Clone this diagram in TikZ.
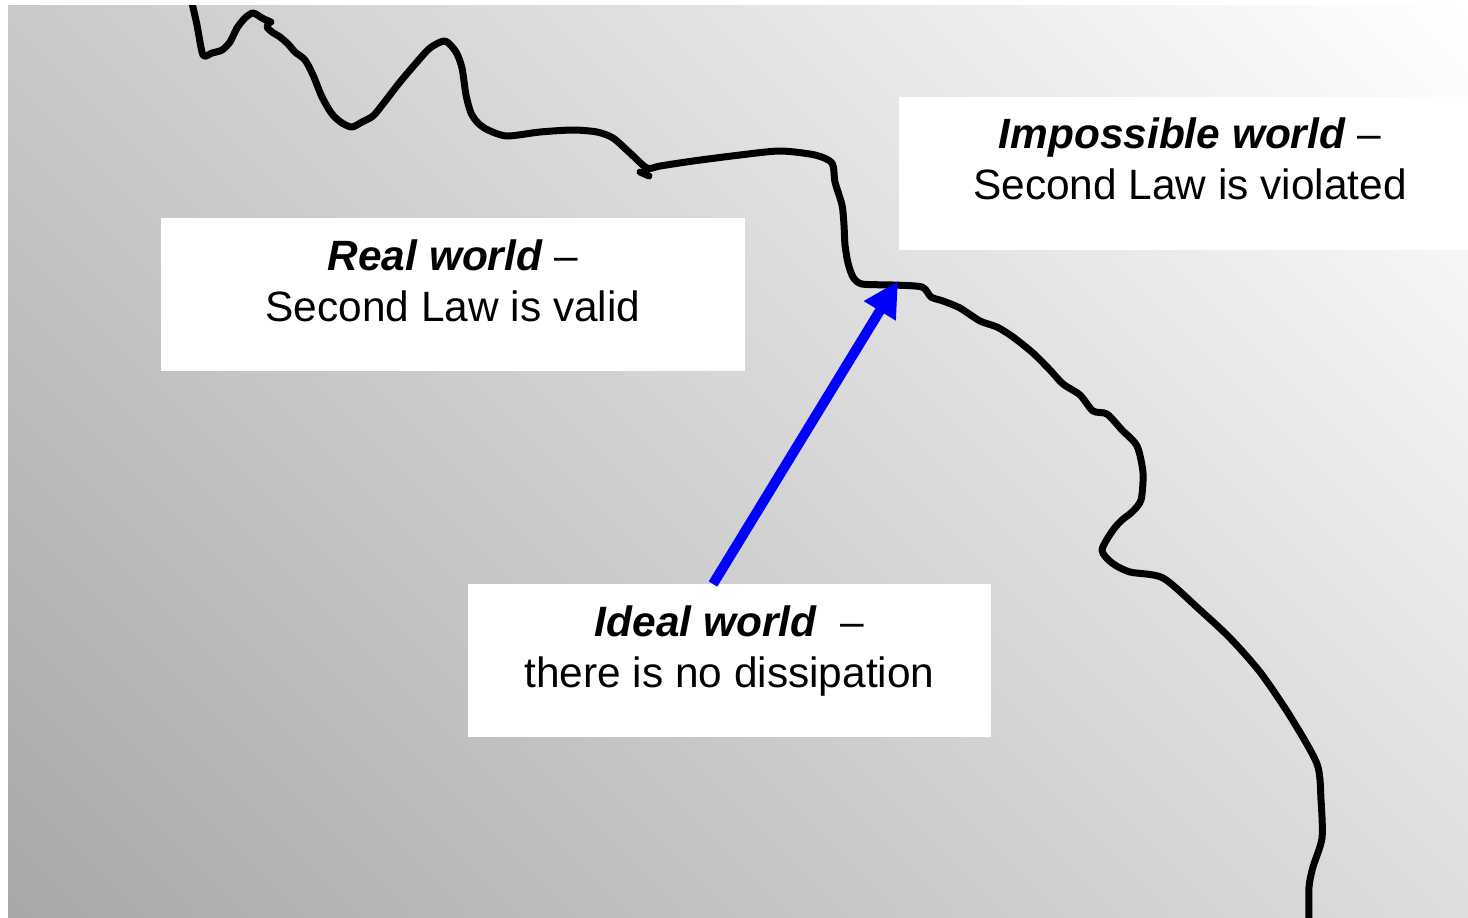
\documentclass[tikz,border=0pt]{standalone}
\usepackage{fontspec}
\setmainfont{Liberation Sans}
\usetikzlibrary{arrows.meta}
\definecolor{bgdark}{RGB}{168,168,168}
\definecolor{arrowblue}{RGB}{0,0,255}
% linear ramp that runs from one corner of the backdrop to the opposite one
\pgfdeclareverticalshading{backdrop}{100bp}{color(0bp)=(bgdark); color(14.64bp)=(bgdark); color(85.36bp)=(white); color(100bp)=(white)}
\tikzset{
  panel/.style={fill=white, draw=none, inner sep=0pt},
  lbl/.style={inner sep=0pt, anchor=base, font=\fontsize{21.2pt}{25.75pt}\selectfont},
  border/.style={line width=3.5pt, line join=round, line cap=butt},
  pointer/.style={line width=5pt, arrowblue, -{Triangle[length=17.5pt, width=17.5pt]}}
}
\begin{document}
\begin{tikzpicture}[x=0.5pt, y=-0.5pt]
  \useasboundingbox (0,0) rectangle (1468,917);
  % shaded backdrop
  \shade[shading=backdrop, shading angle=-45] (8,5) rectangle (1468,917);

  % boundary between the possible and the impossible
  \begin{scope}
    \clip (8,5) rectangle (1468,917);
    \draw[border] plot[smooth, tension=0.45] coordinates {
      (192,3) (197,25) (203,55) (212,53) (222,50) (230,42) (237,28) (245,18)
      (253,13) (262,18) (269,22) (267,27) (272,32) (280,37) (288,44) (295,52)
      (305,60) (313,75) (322,97) (332,114) (342,123) (352,127) (362,122)
      (373,116) (383,104) (400,82) (417,62) (430,48) (445,41) (456,52)
      (462,68) (466,95) (471,113) (478,123) (488,130) (507,136) (540,132)
      (573,130) (597,132) (613,138) (630,153) (647,168) (660,166) (693,161)
      (740,155) (780,151) (815,155) (832,163) (835,182) (842,205) (844,225)
      (845,245) (848,263) (853,277) (862,284) (893,285) (922,287) (931,297)
      (943,301) (960,308) (980,321) (997,327) (1013,337) (1033,353)
      (1050,370) (1063,384) (1080,395) (1093,411) (1107,414) (1122,430)
      (1137,446) (1143,473) (1141,500) (1132,512) (1122,520) (1113,530)
      (1102,550) (1112,563) (1130,572) (1163,578) (1200,610) (1230,638)
      (1260,672) (1290,716) (1317,764) (1321,800) (1322,838) (1313,867)
      (1309,887) (1309,920)};
    \draw[border, line cap=round] (640,172) -- (649,176);
    \draw[border, line cap=round] (266,20) -- (271,22);
  \end{scope}

  % text panels
  \node[panel, minimum width=292pt, minimum height=76.5pt] (realbox) at (453,294.5) {};
  \node[panel, minimum width=284.5pt, minimum height=76.5pt] (impbox) at (1183.5,173.5) {};
  \node[panel, minimum width=261.5pt, minimum height=76.5pt] (idealbox) at (729.5,660.5) {};

  \node[lbl] (realA) at (453,270) {\textbf{\textit{Real world}} –};
  \node[lbl] (realB) at (453,321.5) {Second Law is valid};
  \node[lbl] (impA) at (1190,148) {\textbf{\textit{Impossible world}} –};
  \node[lbl] (impB) at (1190,199.5) {Second Law is violated};
  \node[lbl] (idealA) at (729.5,636) {\textbf{\textit{Ideal world}}\ \ –};
  \node[lbl] (idealB) at (729.5,687.5) {there is no dissipation};

  % arrow from the ideal case up to the boundary
  \coordinate (edge) at (898,281);
  \coordinate (idealfoot) at (713,584);
  \draw[pointer] (idealfoot) -- (edge);
\end{tikzpicture}
\end{document}
